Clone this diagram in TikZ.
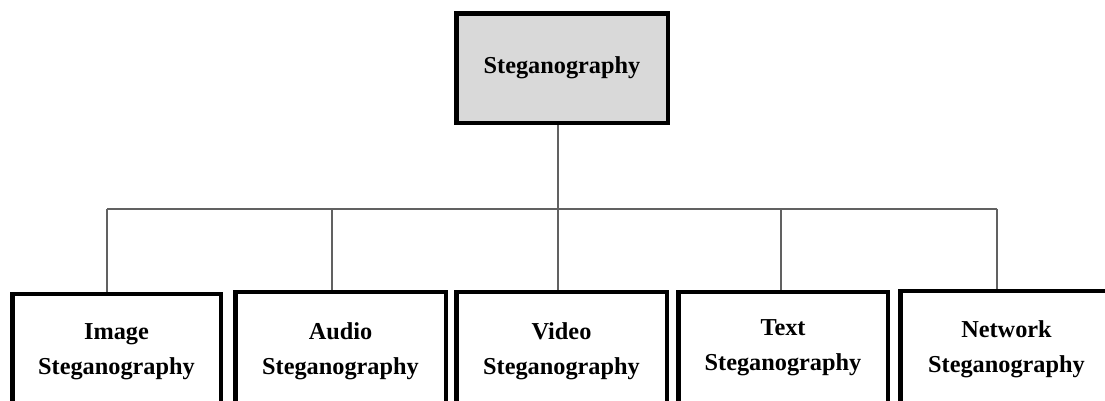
\documentclass[tikz,border=0pt]{standalone}
\usepackage{fontspec}
\setmainfont{Liberation Serif}
\usetikzlibrary{backgrounds}
\begin{document}
\begin{tikzpicture}[x=1pt,y=-1pt,
  box/.style={draw=black,line width=4.5pt,rectangle,inner sep=0pt,align=center,
    fill=white,font=\fontsize{24.3}{35}\selectfont\bfseries},
  rootbox/.style={box,fill=black!15},
  conn/.style={draw=black!62,line width=2pt}]
\useasboundingbox (0,0) rectangle (1105,400);
\clip (0,0) rectangle (1105,400);

% root
\node[rootbox,minimum width=211.5pt,minimum height=109.5pt] (root) at (562,68) {Steganography};

% leaves
\node[box,minimum width=208.5pt,minimum height=115.75pt] (img) at (116.5,352.1) {Image\\Steganography};
\node[box,minimum width=210.5pt,minimum height=117.75pt] (aud) at (340.5,351.1) {Audio\\Steganography};
\node[box,minimum width=210.5pt,minimum height=117.75pt] (vid) at (561.5,351.1) {Video\\Steganography};
\node[box,minimum width=209.5pt,minimum height=111.75pt] (txt) at (783,348.1) {Text\\Steganography};
\node[box,minimum width=212.5pt,minimum height=116.75pt] (net) at (1006.5,349.6) {Network\\Steganography};

% bus points where each branch leaves the horizontal line
\coordinate (hub) at (557.7,208.7);
\coordinate (b1) at (107,208.7);
\coordinate (b2) at (332,208.7);
\coordinate (b3) at (557.7,208.7);
\coordinate (b4) at (781,208.7);
\coordinate (b5) at (997,208.7);

% connectors, kept behind the boxes
\begin{scope}[on background layer]
\draw[conn] (root.south -| hub) -- (hub);
\draw[conn] (b1) -- (b5);
\draw[conn] (b1) -- (b1 |- img.north);
\draw[conn] (b2) -- (b2 |- aud.north);
\draw[conn] (b3) -- (b3 |- vid.north);
\draw[conn] (b4) -- (b4 |- txt.north);
\draw[conn] (b5) -- (b5 |- net.north);
\end{scope}
\end{tikzpicture}
\end{document}
